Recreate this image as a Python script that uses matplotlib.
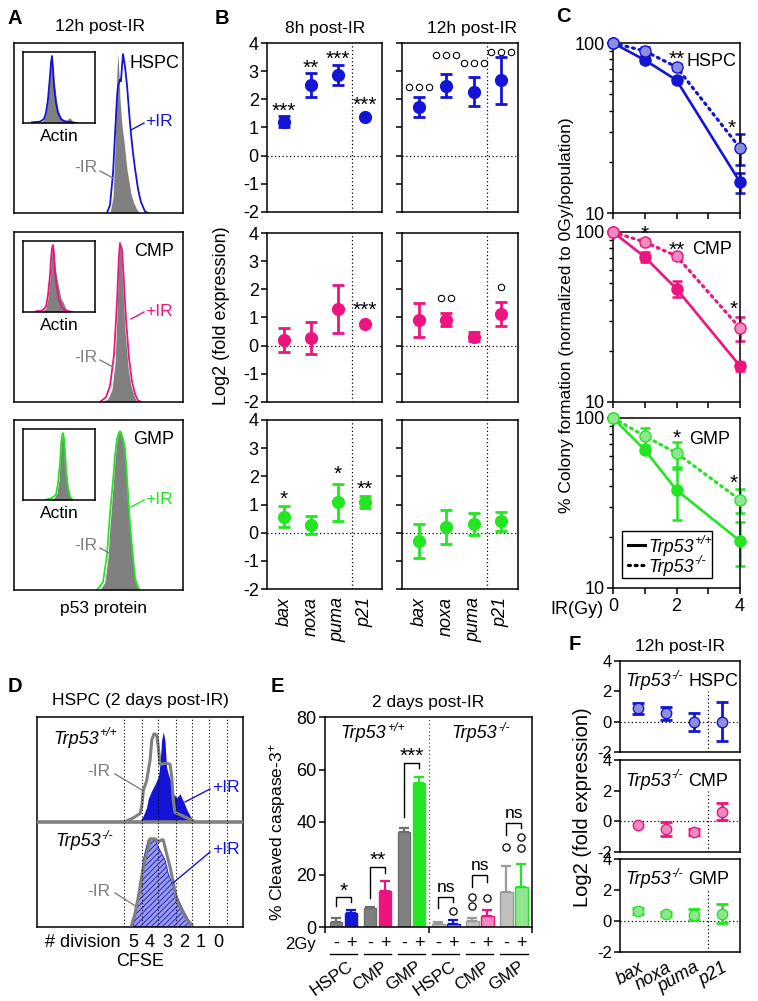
import numpy as np
import matplotlib
matplotlib.use('Agg')
import matplotlib.pyplot as plt
import matplotlib.transforms as mtrans
from matplotlib.patches import Rectangle
from matplotlib.lines import Line2D

plt.rcParams['font.family'] = ['Liberation Sans', 'DejaVu Sans']
plt.rcParams['mathtext.fontset'] = 'custom'
plt.rcParams['mathtext.rm'] = 'Liberation Sans'
plt.rcParams['mathtext.it'] = 'Liberation Sans:italic'
plt.rcParams['axes.unicode_minus'] = False
plt.rcParams['axes.linewidth'] = 1.1
plt.rcParams['xtick.major.width'] = 1.1
plt.rcParams['ytick.major.width'] = 1.1
plt.rcParams['ytick.minor.width'] = 1.0
plt.rcParams['hatch.linewidth'] = 0.6

# ---------------- colours ----------------
BLUE, PINK, GREEN, GRAY = '#1414d6', '#ee1480', '#22e622', '#808080'
LBLUE, LPINK, LGREEN, LGRAY = '#8c8fdc', '#ee8abd', '#90e690', '#c0c0c0'

# ---------------- DATA ----------------
# Panel A: p53 histograms (channel 0-100, relative counts)
A_HSPC_ch_neg = [56.8, 58.6, 59.8, 60.9, 61.5, 62.1, 62.7, 63.9, 65.1, 66.9, 68.0, 69.2, 71.0, 72.8, 74.6]
A_HSPC_neg = [0, 10, 40, 90, 100, 88, 72, 55, 45, 27, 20, 12, 6, 2, 0]
A_HSPC_ch_pos = [55.0, 56.8, 58.6, 59.8, 60.9, 61.5, 62.7, 63.3, 63.9, 64.5, 65.7, 66.9, 68.0, 69.2, 70.4, 71.6, 73.4, 75.1, 77.5, 79.3]
A_HSPC_pos = [0, 5, 25, 50, 72, 80, 84, 83, 92, 100, 92, 80, 65, 50, 38, 28, 15, 7, 1, 0]
A_CMP_ch_neg = [52.1, 55.6, 58.0, 59.8, 60.9, 62.1, 62.7, 63.3, 64.5, 65.7, 67.5, 69.2, 71.0, 72.8]
A_CMP_neg = [0, 2, 8, 25, 55, 90, 100, 95, 70, 45, 22, 10, 4, 0]
A_CMP_ch_pos = [50.9, 54.4, 56.8, 59.2, 60.9, 62.1, 62.7, 63.9, 65.1, 66.3, 68.0, 69.8, 71.6, 73.4, 75.1]
A_CMP_pos = [0, 3, 10, 30, 62, 92, 100, 96, 75, 52, 28, 13, 5, 1, 0]
A_GMP_ch_neg = [50.9, 53.8, 55.6, 56.8, 58.6, 59.8, 60.9, 62.1, 62.7, 63.3, 64.5, 65.7, 67.5, 68.6, 69.8, 71.6, 73.4]
A_GMP_neg = [0, 5, 20, 40, 65, 82, 94, 99, 100, 99, 95, 88, 58, 40, 26, 6, 0]
A_GMP_ch_pos = [49.1, 52.7, 55.0, 56.8, 58.6, 59.8, 60.9, 62.1, 62.7, 63.3, 64.5, 65.7, 67.5, 68.6, 69.8, 71.6, 72.8, 74.6]
A_GMP_pos = [0, 5, 22, 48, 69, 85, 95, 99, 100, 99, 95, 89, 60, 42, 28, 8, 3, 0]
# Actin insets
ACT_HSPC_ch_neg = [23.6, 29.2, 31.9, 34.7, 37.5, 38.9, 40.3, 41.7, 43.1, 45.8, 48.6, 52.8, 56.9, 61.1, 63.9, 66.7, 69.4, 73.6]
ACT_HSPC_neg = [0, 5, 15, 35, 70, 88, 95, 85, 65, 40, 20, 8, 4, 3, 8, 6, 2, 0]
ACT_HSPC_ch_pos = [12.5, 23.6, 29.2, 31.9, 34.7, 37.5, 38.9, 40.3, 41.7, 43.1, 45.8, 48.6, 52.8, 56.9, 62.5, 68.1, 75.0]
ACT_HSPC_pos = [1, 2, 6, 15, 35, 70, 90, 100, 80, 55, 30, 15, 6, 3, 2, 1, 0]
ACT_CMP_ch_neg = [26.4, 31.9, 34.7, 37.5, 38.9, 40.3, 41.7, 43.1, 44.4, 47.2, 50.0, 52.8, 55.6, 58.3, 61.1, 65.3]
ACT_CMP_neg = [0, 6, 20, 50, 75, 92, 96, 88, 70, 50, 35, 20, 15, 8, 3, 0]
ACT_CMP_ch_pos = [18.1, 26.4, 31.9, 34.7, 37.5, 38.9, 40.3, 41.7, 43.1, 44.4, 47.2, 50.0, 54.2, 59.7, 68.1]
ACT_CMP_pos = [1, 2, 8, 25, 55, 80, 95, 100, 85, 60, 35, 18, 6, 2, 0]
ACT_GMP_ch_neg = [34.7, 43.1, 47.2, 50.0, 51.4, 52.8, 54.2, 55.6, 56.9, 58.3, 59.7, 62.5, 65.3, 68.1]
ACT_GMP_neg = [0, 3, 10, 30, 55, 80, 95, 98, 90, 75, 50, 20, 5, 0]
ACT_GMP_ch_pos = [30.6, 40.3, 45.8, 48.6, 51.4, 52.8, 54.2, 55.6, 56.9, 58.3, 59.7, 62.5, 65.3, 69.4]
ACT_GMP_pos = [0, 3, 8, 25, 55, 82, 97, 100, 92, 72, 45, 18, 5, 0]

# Panel B: log2 fold expression
genes = ['bax', 'noxa', 'puma', 'p21']
B8_HSPC, B8_HSPC_err = [1.2, 2.5, 2.87, 1.37], [0.2, 0.42, 0.35, 0.0]
B8_CMP, B8_CMP_err = [0.2, 0.27, 1.3, 0.78], [0.43, 0.57, 0.85, 0.0]
B8_GMP, B8_GMP_err = [0.57, 0.27, 1.08, 1.08], [0.36, 0.32, 0.66, 0.22]
B12_HSPC, B12_HSPC_err = [1.74, 2.48, 2.27, 2.67], [0.36, 0.41, 0.52, 0.82]
B12_CMP, B12_CMP_err = [0.9, 0.92, 0.32, 1.12], [0.6, 0.23, 0.17, 0.43]
B12_GMP, B12_GMP_err = [-0.3, 0.2, 0.3, 0.4], [0.6, 0.6, 0.4, 0.35]
B8_HSPC_sig = [('***', 1.8), ('**', 3.33), ('***', 3.65), ('***', 2.0)]
B8_CMP_sig = [None, None, None, ('***', 1.5)]
B8_GMP_sig = [('*', 1.4), None, ('*', 2.3), ('**', 1.77)]
B12_HSPC_sig = [(3, 2.45), (3, 3.58), (3, 3.3), (3, 3.68)]
B12_CMP_sig = [None, (2, 1.7), None, (1, 2.09)]
B12_GMP_sig = [None, None, None, None]

# Panel C: colony formation
dose = [0, 1, 2, 4]
C_HSPC_wt, C_HSPC_wt_err = [100, 79.4, 60.5, 15.2], [0, 3, 2, 2.0]
C_HSPC_ko, C_HSPC_ko_err = [100, 89.7, 72.2, 24.1], [0, 5, 3, 5]
C_CMP_wt, C_CMP_wt_err = [100, 71.3, 46.3, 16.3], [0, 5, 5, 1]
C_CMP_ko, C_CMP_ko_err = [100, 87.3, 72.2, 27.2], [0, 4, 3, 4.5]
C_GMP_wt, C_GMP_wt_err = [100, 64.9, 37.7, 18.9], [0, 3, 12.5, 5.5]
C_GMP_ko, C_GMP_ko_err = [100, 78.3, 62.2, 33.0], [0, 8.5, 10.5, 5.3]
C_HSPC_sig = [(2, 87.3, '**'), (3.75, 34.3, '*')]
C_CMP_sig = [(1, 105.6, '*'), (2, 85.0, '**'), (3.8, 38.2, '*')]
C_GMP_sig = [(2, 82.7, '*'), (3.8, 45.0, '*')]

# Panel D: CFSE histograms (channel 0-100, relative height)
D_ch_wt_neg = [43.5, 46.8, 50.0, 50.8, 51.6, 53.2, 54.9, 55.7, 56.8, 58.1, 58.9, 59.7, 62.9, 64.6, 65.4, 66.2, 67.0, 69.4, 72.7, 75.9]
D_wt_neg = [0.01, 0.04, 0.08, 0.14, 0.30, 0.39, 0.59, 0.78, 0.84, 0.83, 0.71, 0.55, 0.56, 0.55, 0.43, 0.20, 0.09, 0.07, 0.04, 0.01]
D_ch_wt_pos = [50.0, 51.6, 53.2, 54.0, 55.7, 57.3, 58.9, 59.7, 60.5, 61.3, 62.1, 62.9, 63.7, 65.4, 66.2, 67.8, 69.4, 71.0, 72.7, 74.3, 75.9]
D_wt_pos = [0.01, 0.06, 0.14, 0.22, 0.30, 0.36, 0.43, 0.55, 0.78, 0.86, 0.78, 0.52, 0.46, 0.36, 0.27, 0.23, 0.27, 0.20, 0.12, 0.06, 0.01]
D_ch_ko_neg = [46.0, 47.6, 49.2, 50.8, 52.4, 54.0, 54.9, 57.3, 58.9, 60.5, 61.3, 62.9, 64.6, 66.2, 67.8, 70.2, 72.7, 75.1]
D_ko_neg = [0.02, 0.13, 0.29, 0.48, 0.64, 0.76, 0.84, 0.84, 0.81, 0.83, 0.83, 0.70, 0.57, 0.42, 0.26, 0.16, 0.07, 0.02]
D_ch_ko_pos = [46.8, 48.4, 50.0, 51.6, 54.0, 55.7, 57.3, 58.9, 60.5, 62.1, 63.7, 65.4, 67.0, 68.6, 71.0, 73.5, 75.6]
D_ko_pos = [0.02, 0.19, 0.38, 0.64, 0.83, 0.84, 0.83, 0.76, 0.70, 0.64, 0.51, 0.42, 0.35, 0.26, 0.16, 0.07, 0.02]
D_div_lines = [42.2, 51.0, 58.7, 67.5, 75.2, 83.5, 92.2]
D_div_labels = ['5', '4', '3', '2', '1', '0']

# Panel E: cleaved caspase-3
E_groups = ['HSPC', 'CMP', 'GMP', 'HSPC', 'CMP', 'GMP']
E_minus, E_minus_err = [2.0, 7.1, 36.1, 1.0, 2.1, 13.4], [1.5, 0.4, 1.6, 0.9, 1.2, 9.9]
E_plus, E_plus_err = [5.3, 13.8, 54.8, 1.2, 4.2, 15.3], [1.2, 3.6, 2.3, 1.4, 2.1, 8.6]
E_sig = [('*', 11.4, 8.0, 9.5), ('**', 22.9, 11.0, 20.6), ('***', 62.5, 42.0, 60.5),
         ('ns', 11.4, 7.2, 9.5), ('ns', 19.8, 15.3, 17.2), ('ns', 39.6, 35.0, 37.7)]
E_circles_minus = [[], [], [], [], [11.4, 8.0], [30.5]]
E_circles_plus = [[], [], [], [6.0], [11.0], [34.3, 30.0]]

# Panel F: Trp53-/- expression
F_HSPC, F_HSPC_err = [0.87, 0.55, 0.0, 0.0], [0.35, 0.45, 0.6, 1.3]
F_CMP, F_CMP_err = [-0.27, -0.5, -0.7, 0.63], [0.0, 0.45, 0.2, 0.55]
F_GMP, F_GMP_err = [0.62, 0.45, 0.4, 0.47], [0.2, 0.15, 0.35, 0.6]

# ---------------- FIGURE ----------------
W, H = 758, 1001
fig = plt.figure(figsize=(W / 100, H / 100), dpi=100)
RND = fig.canvas.get_renderer()


def axp(l, t, r, b):
    return fig.add_axes([l / W, 1 - b / H, (r - l) / W, (b - t) / H])


def ftxt(x, y, s, **kw):
    kw.setdefault('ha', 'center')
    kw.setdefault('va', 'center')
    return fig.text(x / W, 1 - y / H, s, **kw)


def fline(x1, y1, x2, y2, color, lw=1.0, **kw):
    fig.add_artist(Line2D([x1 / W, x2 / W], [1 - y1 / H, 1 - y2 / H], transform=fig.transFigure,
                          color=color, lw=lw, **kw))


def trp(x, y, sup, fs=13, ha='left', rest=''):
    """Italic 'Trp53' with a raised italic genotype, optional plain text after."""
    em = fs * 100 / 72.0
    yb = y + 0.36 * em
    t1 = fig.text(0, 0, 'Trp53', fontsize=fs, fontstyle='italic', ha='left', va='baseline')
    t2 = fig.text(0, 0, sup, fontsize=fs * 0.68, fontstyle='italic', ha='left', va='baseline')
    w1 = t1.get_window_extent(RND).width
    w2 = t2.get_window_extent(RND).width
    t3 = None
    w3 = 0
    gap = 0.28 * em
    if rest:
        t3 = fig.text(0, 0, rest, fontsize=fs, ha='left', va='baseline')
        w3 = t3.get_window_extent(RND).width + gap
    total = w1 + 1 + w2 + w3
    x0 = x if ha == 'left' else x - total / 2
    t1.set_position((x0 / W, 1 - yb / H))
    t2.set_position(((x0 + w1 + 1) / W, 1 - (yb - 0.40 * em) / H))
    if t3 is not None:
        t3.set_position(((x0 + w1 + 1 + w2 + gap) / W, 1 - yb / H))


def sig_text(ax, x, yc, s, fs=15, color='k'):
    tr = mtrans.offset_copy(ax.transData, fig=fig, y=-0.575 * fs, units='points')
    ax.text(x, yc, s, transform=tr, ha='center', va='baseline', fontsize=fs, color=color, clip_on=False)


def circles(ax, x, yc, n, ms=4.6):
    for k in range(n):
        dx = (k - (n - 1) / 2) * 7.3
        tr = mtrans.offset_copy(ax.transData, fig=fig, x=dx, units='points')
        ax.plot([x], [yc], 'o', mfc='white', mec='k', mew=0.8, ms=ms, transform=tr, clip_on=False)


DOT = (0, (1, 2))

# panel letters and titles
for letter, x, y in [('A', 15, 18), ('B', 222, 18), ('C', 563, 17), ('D', 15, 687), ('E', 277, 687), ('F', 575, 645)]:
    ftxt(x, y, letter, fontsize=14.5, fontweight='bold')
ftxt(100, 27, '12h post-IR', fontsize=12.5)
ftxt(325, 28, '8h post-IR', fontsize=12.5)
ftxt(472, 28, '12h post-IR', fontsize=12.5)
ftxt(140, 700, 'HSPC (2 days post-IR)', fontsize=12.5)
ftxt(428, 703, '2 days post-IR', fontsize=12.5)
ftxt(680, 647, '12h post-IR', fontsize=12.5)

# ---------------- Panel A ----------------
A_specs = [
    ('HSPC', BLUE, 43, A_HSPC_ch_neg, A_HSPC_neg, A_HSPC_ch_pos, A_HSPC_pos,
     ACT_HSPC_ch_neg, ACT_HSPC_neg, ACT_HSPC_ch_pos, ACT_HSPC_pos),
    ('CMP', PINK, 232, A_CMP_ch_neg, A_CMP_neg, A_CMP_ch_pos, A_CMP_pos,
     ACT_CMP_ch_neg, ACT_CMP_neg, ACT_CMP_ch_pos, ACT_CMP_pos),
    ('GMP', GREEN, 420, A_GMP_ch_neg, A_GMP_neg, A_GMP_ch_pos, A_GMP_pos,
     ACT_GMP_ch_neg, ACT_GMP_neg, ACT_GMP_ch_pos, ACT_GMP_pos),
]
for name, col, top, cn, hn, cp, hp, icn, ihn, icp, ihp in A_specs:
    ax = axp(14, top, 183, top + 170)
    ax.fill_between(cn, hn, color=GRAY, lw=0)
    ax.plot(cp, hp, color=col, lw=1.3)
    ax.set_xlim(0, 100)
    ax.set_ylim(0, 107)
    ax.set_xticks([])
    ax.set_yticks([])
    ia = axp(23, top + 9, 95, top + 80)
    ia.fill_between(icn, ihn, color=GRAY, lw=0)
    ia.plot(icp, ihp, color=col, lw=1.3)
    ia.set_xlim(0, 100)
    ia.set_ylim(0, 106)
    ia.set_xticks([])
    ia.set_yticks([])
    ftxt(154, top + 20, name, fontsize=13)
    ftxt(59, top + 93, 'Actin', fontsize=12.5)
    ftxt(145, top + 79, '+IR', color=col, ha='left', fontsize=12.5)
    fline(144, top + 80, 131, top + 87, col)
    ftxt(97, top + 125, '-IR', color=GRAY, ha='right', fontsize=12.5)
    fline(100, top + 128, 113, top + 135, GRAY)
ftxt(103, 608, 'p53 protein', fontsize=12.5)

# ---------------- Panel B ----------------
B_cols = [(267, 382), (402, 518)]
B_rows = [(43, 212), (233, 402), (420, 589)]
B_data = [
    [(B8_HSPC, B8_HSPC_err, B8_HSPC_sig, BLUE), (B12_HSPC, B12_HSPC_err, B12_HSPC_sig, BLUE)],
    [(B8_CMP, B8_CMP_err, B8_CMP_sig, PINK), (B12_CMP, B12_CMP_err, B12_CMP_sig, PINK)],
    [(B8_GMP, B8_GMP_err, B8_GMP_sig, GREEN), (B12_GMP, B12_GMP_err, B12_GMP_sig, GREEN)],
]
xg = np.arange(len(genes))
for r, (t, b) in enumerate(B_rows):
    for c, (l, rr) in enumerate(B_cols):
        vals, errs, sigs, col = B_data[r][c]
        ax = axp(l, t, rr, b)
        ax.axhline(0, color='k', ls=DOT, lw=0.9, zorder=1)
        ax.axvline(2.5, color='k', ls=DOT, lw=0.9, zorder=1)
        for i in range(len(genes)):
            if errs[i] > 0:
                ax.errorbar(xg[i], vals[i], yerr=errs[i], fmt='none', ecolor=col, elinewidth=2,
                            capsize=4, capthick=2, zorder=2)
        ax.plot(xg, vals, 'o', color=col, ms=8.5, zorder=3, clip_on=False)
        for i, s in enumerate(sigs):
            if s is None:
                continue
            if c == 0:
                sig_text(ax, xg[i], s[1], s[0], fs=15)
            else:
                circles(ax, xg[i], s[1], s[0])
        ax.set_xlim(-0.62, 3.62)
        ax.set_ylim(-2, 4)
        ax.set_yticks(range(-2, 5))
        ax.tick_params(axis='y', direction='out', length=4, labelsize=13, pad=2)
        if c == 1:
            ax.set_yticklabels([])
        if r == 2:
            ax.set_xticks(xg)
            ax.set_xticklabels(genes, rotation=90, fontsize=13, fontstyle='italic')
            ax.tick_params(axis='x', length=0, pad=6)
        else:
            ax.set_xticks([])
ftxt(221, 316, 'Log2 (fold expression)', rotation=90, fontsize=13)

# ---------------- Panel C ----------------
C_rows = [(43, 213), (232, 402), (418, 588)]
C_data = [
    ('HSPC', BLUE, LBLUE, C_HSPC_wt, C_HSPC_wt_err, C_HSPC_ko, C_HSPC_ko_err, C_HSPC_sig, (711, 62)),
    ('CMP', PINK, LPINK, C_CMP_wt, C_CMP_wt_err, C_CMP_ko, C_CMP_ko_err, C_CMP_sig, (712, 250)),
    ('GMP', GREEN, LGREEN, C_GMP_wt, C_GMP_wt_err, C_GMP_ko, C_GMP_ko_err, C_GMP_sig, (710, 440)),
]
KO_LS = (0, (0.6, 1.5))
for r, (t, b) in enumerate(C_rows):
    name, col, lcol, wt, wte, ko, koe, sigs, lab = C_data[r]
    ax = axp(613, t, 740, b)
    ax.set_yscale('log')
    ax.errorbar(dose, ko, yerr=koe, fmt='none', ecolor=col, elinewidth=1.8, capsize=3.5, capthick=1.8, zorder=2,
                clip_on=False)
    ax.errorbar(dose, wt, yerr=wte, fmt='none', ecolor=col, elinewidth=1.8, capsize=3.5, capthick=1.8, zorder=2,
                clip_on=False)
    ax.plot(dose, wt, '-', color=col, lw=1.9, zorder=3, clip_on=False)
    ax.plot(dose, ko, color=col, lw=2.3, ls=KO_LS, dash_capstyle='round', zorder=3, clip_on=False)
    ax.plot(dose, wt, 'o', color=col, ms=8, zorder=4, clip_on=False)
    ax.plot(dose, ko, 'o', mfc=lcol, mec=col, mew=1.0, ms=8, zorder=4, clip_on=False)
    for (x, y, s) in sigs:
        sig_text(ax, x, y, s, fs=15)
    ax.set_xlim(0, 4)
    ax.set_ylim(10, 100)
    ax.set_yticks([10, 100])
    ax.set_yticklabels(['10', '100'])
    ax.set_yticks([20, 30, 40, 50, 60, 70, 80, 90], minor=True)
    ax.yaxis.set_minor_formatter(matplotlib.ticker.NullFormatter())
    ax.tick_params(axis='y', which='major', direction='out', length=4, labelsize=13, pad=2)
    ax.tick_params(axis='y', which='minor', direction='out', length=3)
    ax.set_xticks([0, 1, 2, 3, 4])
    ax.tick_params(axis='x', direction='out', length=4, labelsize=13, pad=3)
    if r == 2:
        ax.set_xticklabels(['0', '', '2', '', '4'])
    else:
        ax.set_xticklabels([])
    ftxt(lab[0], lab[1], name, fontsize=13)
ftxt(603, 609, 'IR(Gy)', ha='right', fontsize=13)
ftxt(567, 315, '% Colony formation (normalized to 0Gy/population)', rotation=90, fontsize=12.5)
# legend
fig.add_artist(Rectangle((622 / W, 1 - 578 / H), 90 / W, 47 / H, transform=fig.transFigure,
                         fill=False, ec='k', lw=1.0))
fline(628, 545, 645, 545, 'k', lw=2.2)
fline(628, 565, 645, 565, 'k', lw=2.3, ls=KO_LS, dash_capstyle='round')
trp(648, 545, '+/+', fs=13)
trp(648, 565, '-/-', fs=13)

# ---------------- Panel D ----------------
ax = axp(37, 717, 243, 927)
ax.set_xlim(0, 100)
ax.set_ylim(0, 2)
ax.fill_between(D_ch_wt_pos, 1, 1 + np.array(D_wt_pos), color=BLUE, lw=0, zorder=2)
ax.plot(D_ch_wt_neg, 1 + np.array(D_wt_neg), color=GRAY, lw=2.2, zorder=3)
ax.axhline(1, color=GRAY, lw=2.6, zorder=4)
ax.fill_between(D_ch_ko_pos, 0, D_ko_pos, facecolor='#9a9ce6', edgecolor=BLUE, hatch='//////', lw=0.6, zorder=2)
ax.plot(D_ch_ko_neg, D_ko_neg, color=GRAY, lw=2.2, zorder=3)
for xv in D_div_lines:
    ax.axvline(xv, color='k', ls=DOT, lw=0.8, zorder=5)
ax.set_xticks([])
ax.set_yticks([])
bt = mtrans.blended_transform_factory(ax.transData, ax.transAxes)
for k, s in enumerate(D_div_labels):
    ax.text((D_div_lines[k] + D_div_lines[k + 1]) / 2, -0.072, s, transform=bt, ha='center', va='center',
            fontsize=13)
ax.text(40.3, -0.072, '# division', transform=bt, ha='right', va='center', fontsize=13)
ftxt(140, 962, 'CFSE', fontsize=13)
trp(53, 737, '+/+', fs=13)
trp(55, 840, '-/-', fs=13)
ftxt(110, 772, '-IR', color=GRAY, ha='right', fontsize=12.5)
fline(115, 774, 142, 790, GRAY)
ftxt(212, 788, '+IR', color=BLUE, ha='left', fontsize=12.5)
fline(210, 789, 185, 802, BLUE)
ftxt(110, 892, '-IR', color=GRAY, ha='right', fontsize=12.5)
fline(115, 893, 137, 907, GRAY)
ftxt(212, 850, '+IR', color=BLUE, ha='left', fontsize=12.5)
fline(210, 852, 173, 883, BLUE)

# ---------------- Panel E ----------------
ax = axp(325, 717, 532, 927)
xe = np.arange(len(E_groups))
fm = [GRAY, GRAY, GRAY, LGRAY, LGRAY, LGRAY]
em = ['#6e6e6e', '#6e6e6e', '#6e6e6e', '#9a9a9a', '#9a9a9a', '#9a9a9a']
fp = [BLUE, PINK, GREEN, LBLUE, LPINK, LGREEN]
ep = [BLUE, PINK, GREEN, BLUE, PINK, GREEN]
off, bw = 0.22, 0.37
for i in range(len(E_groups)):
    ax.bar(xe[i] - off, E_minus[i], width=bw, color=fm[i], edgecolor=em[i], lw=1.0, zorder=2)
    ax.bar(xe[i] + off, E_plus[i], width=bw, color=fp[i], edgecolor=ep[i], lw=1.0, zorder=2)
    ax.errorbar(xe[i] - off, E_minus[i], yerr=[[0], [E_minus_err[i]]], fmt='none', ecolor=em[i],
                elinewidth=1.6, capsize=3.5, capthick=1.6, zorder=1.5)
    ax.errorbar(xe[i] + off, E_plus[i], yerr=[[0], [E_plus_err[i]]], fmt='none', ecolor=ep[i],
                elinewidth=1.6, capsize=3.5, capthick=1.6, zorder=1.5)
    s, top_, yl, yr = E_sig[i]
    ax.plot([xe[i] - off, xe[i] - off, xe[i] + off, xe[i] + off], [yl, top_, top_, yr], color='k', lw=1.0)
    if s == 'ns':
        tr = mtrans.offset_copy(ax.transData, fig=fig, y=3.5, units='points')
        ax.text(xe[i], top_, s, transform=tr, ha='center', va='baseline', fontsize=12.5)
    else:
        tr = mtrans.offset_copy(ax.transData, fig=fig, y=0.5, units='points')
        ax.text(xe[i], top_, s, transform=tr, ha='center', va='baseline', fontsize=15)
    for yc in E_circles_minus[i]:
        ax.plot([xe[i] - off], [yc], 'o', mfc='white', mec='k', mew=0.9, ms=5.2, zorder=3)
    for yc in E_circles_plus[i]:
        ax.plot([xe[i] + off], [yc], 'o', mfc='white', mec='k', mew=0.9, ms=5.2, zorder=3)
ax.axvline(2.5, color='#555555', ls=DOT, lw=0.9, zorder=1)
ax.set_xlim(-0.54, 5.53)
ax.set_ylim(0, 80)
ax.set_yticks([0, 20, 40, 60, 80])
ax.tick_params(axis='y', direction='out', length=4, labelsize=13, pad=2)
ax.set_xticks([-0.54, 2.5, 5.53])
ax.set_xticklabels([])
ax.tick_params(axis='x', direction='out', length=4)
bt = mtrans.blended_transform_factory(ax.transData, ax.transAxes)
for i in range(len(E_groups)):
    ax.text(xe[i] - off, (927 - 943) / 210, '-', transform=bt, ha='center', va='center', fontsize=13)
    ax.text(xe[i] + off, (927 - 943) / 210, '+', transform=bt, ha='center', va='center', fontsize=13)
    ax.plot([xe[i] - 0.4, xe[i] + 0.4], [(927 - 954) / 210] * 2, transform=bt, color='k', lw=1.0, clip_on=False)
    ax.text(xe[i] + 0.12, (927 - 959) / 210, E_groups[i], transform=bt, ha='right', va='top', rotation=35,
            rotation_mode='anchor', fontsize=12.5)
ftxt(316, 944, '2Gy', ha='right', fontsize=12)
trp(373, 732, '+/+', fs=13, ha='center')
trp(481, 732, '-/-', fs=13, ha='center')
ftxt(278, 832, '% Cleaved caspase-3$^{+}$', rotation=90, fontsize=12.5)

# ---------------- Panel F ----------------
F_rows = [(661, 752), (760, 852), (859, 952)]
F_data = [('HSPC', BLUE, LBLUE, F_HSPC, F_HSPC_err), ('CMP', PINK, LPINK, F_CMP, F_CMP_err),
          ('GMP', GREEN, LGREEN, F_GMP, F_GMP_err)]
for r, (t, b) in enumerate(F_rows):
    name, col, lcol, vals, errs = F_data[r]
    ax = axp(620, t, 740, b)
    ax.axhline(0, color='k', ls=DOT, lw=0.9, zorder=1)
    ax.plot([2.5, 2.5], [-2, 2], color='k', ls=DOT, lw=0.9, zorder=1)
    for i in range(len(genes)):
        if errs[i] > 0:
            ax.errorbar(xg[i], vals[i], yerr=errs[i], fmt='none', ecolor=col, elinewidth=2, capsize=4,
                        capthick=2, zorder=2)
    ax.plot(xg, vals, 'o', mfc=lcol, mec=col, mew=1.0, ms=7.5, zorder=3)
    ax.set_xlim(-0.64, 3.64)
    ax.set_ylim(-2, 4)
    ax.set_yticks([-2, 0, 2, 4])
    ax.tick_params(axis='y', direction='out', length=4, labelsize=12, pad=2)
    trp(625, t + 19, '-/-', fs=13, rest=name)
    if r == 2:
        ax.set_xticks(xg)
        ax.set_xticklabels(genes, rotation=30, ha='right', rotation_mode='anchor', fontsize=13,
                           fontstyle='italic')
        ax.tick_params(axis='x', length=0, pad=5)
    else:
        ax.set_xticks([])
ftxt(583, 807, 'Log2 (fold expression)', rotation=90, fontsize=14.5)

fig.savefig('out.png', dpi=100)
